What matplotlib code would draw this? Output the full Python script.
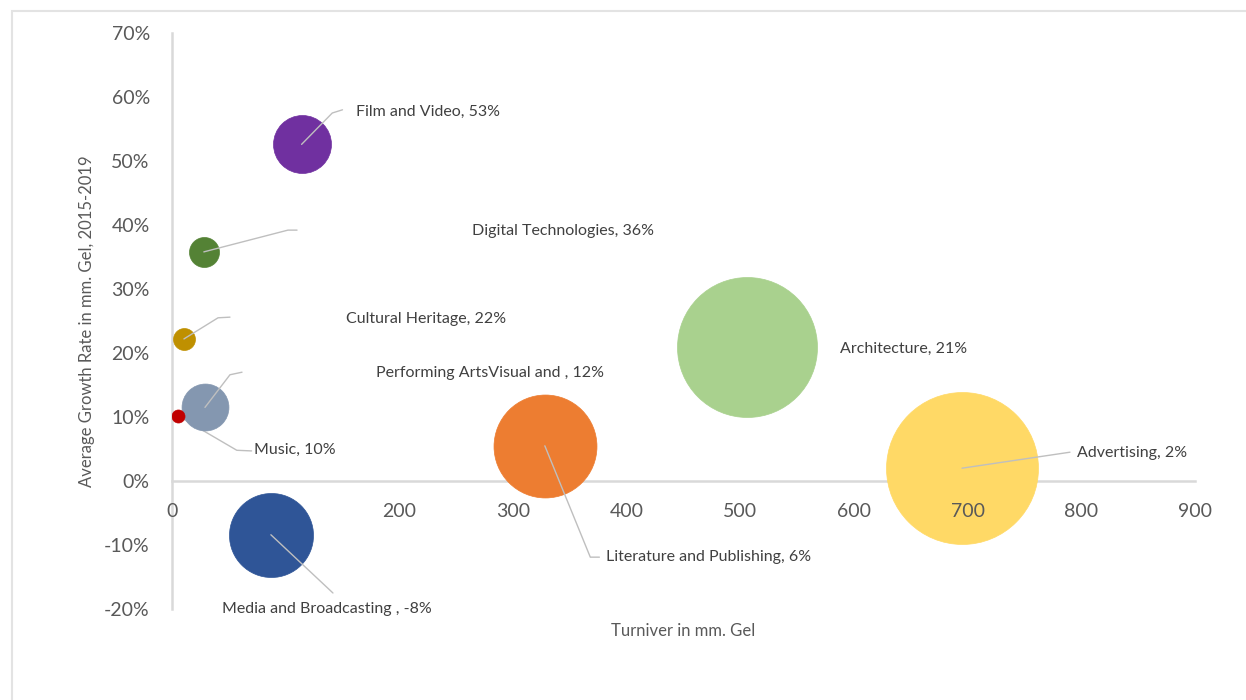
import matplotlib
matplotlib.use("Agg")
import matplotlib.pyplot as plt
from matplotlib.patches import Rectangle
from matplotlib.ticker import PercentFormatter

plt.rcParams['font.family'] = ['Lato', 'DejaVu Sans']
plt.rcParams['axes.unicode_minus'] = False

# data
sectors = ["Performing ArtsVisual and ", "Music", "Cultural Heritage", "Digital Technologies",
           "Film and Video", "Media and Broadcasting ", "Literature and Publishing",
           "Architecture", "Advertising"]
turnover = [29, 5, 10.5, 28, 114, 87, 328, 506, 695]
growth = [0.115, 0.102, 0.222, 0.358, 0.526, -0.084, 0.055, 0.209, 0.020]
bubble_size = [22, 1.7, 4.8, 9, 33.6, 70.6, 106, 196, 231]
labels = ["Performing ArtsVisual and , 12%", "Music, 10%", "Cultural Heritage, 22%",
          "Digital Technologies, 36%", "Film and Video, 53%", "Media and Broadcasting , -8%",
          "Literature and Publishing, 6%", "Architecture, 21%", "Advertising, 2%"]
colors = ["#8497b0", "#c00000", "#bf9000", "#548235", "#7030a0", "#2f5597",
          "#ed7d31", "#a9d18e", "#ffd966"]

# label layout (data coords): text anchor and leader line bends
label_pos = [(179.5, 0.169), (72, 0.048), (153, 0.253), (264, 0.391), (162, 0.577),
             (44, -0.20), (382, -0.119), (588, 0.206), (796, 0.044)]
leaders = [[(51, 0.166), (61.6, 0.170)],
           [(57, 0.048), (70, 0.047)],
           [(40.5, 0.255), (51, 0.256)],
           [(102, 0.392), (110, 0.392)],
           [(141, 0.575), (150, 0.58)],
           [(141.6, -0.175)],
           [(368, -0.119), (376, -0.119)],
           [],
           [(790, 0.045)]]

fig = plt.figure(figsize=(12.46, 7.0), dpi=100)
fig.patches.append(Rectangle((12 / 1246, -0.2), 1.2, 1.2 - 11 / 700, transform=fig.transFigure,
                             fill=False, edgecolor="#e3e3e3", lw=1.5))
ax = fig.add_axes([172 / 1246, 1 - 609 / 700, (1195 - 172) / 1246, (609 - 33) / 700])

# bubbles: size values -> points^2
for i in range(len(sectors)):
    ax.scatter(turnover[i], growth[i], s=bubble_size[i] * 51.84, color=colors[i],
               edgecolors=colors[i], linewidths=0.5, zorder=3)

for i in range(len(sectors)):
    pts = [(turnover[i], growth[i])] + leaders[i]
    if len(pts) > 1:
        xs = [p[0] for p in pts]
        ys = [p[1] for p in pts]
        z = 2 if sectors[i] == "Music" else 4
        ax.plot(xs, ys, color="#bfbfbf", lw=1.0, zorder=z, solid_capstyle='round')
    ax.text(label_pos[i][0], label_pos[i][1], labels[i], ha='left', va='center',
            fontsize=11.5, color="#404040", zorder=5)

ax.set_xlim(0, 900)
ax.set_ylim(-0.2, 0.7)
ax.set_xticks(range(0, 901, 100))
ax.set_yticks([i / 10 for i in range(-2, 8)])
ax.yaxis.set_major_formatter(PercentFormatter(1.0, decimals=0))
ax.xaxis.set_ticklabels(["0", "", "200", "300", "400", "500", "600", "700", "800", "900"])

for s in ['top', 'right']:
    ax.spines[s].set_visible(False)
ax.spines['bottom'].set_position(('data', 0))
for s in ['left', 'bottom']:
    ax.spines[s].set_color("#d9d9d9")
    ax.spines[s].set_linewidth(1.8)
    ax.spines[s].set_zorder(1)
ax.tick_params(length=0, labelsize=14, labelcolor="#595959")
ax.tick_params(axis='x', pad=16)
ax.tick_params(axis='y', pad=16)
ax.xaxis.set_zorder(5)

fig.text((172 + 1195) / 2 / 1246, 1 - 631 / 700, "Turniver in mm. Gel", ha='center', va='center',
         fontsize=12, color="#595959")
fig.text(87 / 1246, 1 - 321 / 700, "Average Growth Rate in mm. Gel, 2015-2019", ha='center',
         va='center', rotation=90, fontsize=12, color="#595959")

fig.savefig("out.png", dpi=100)
